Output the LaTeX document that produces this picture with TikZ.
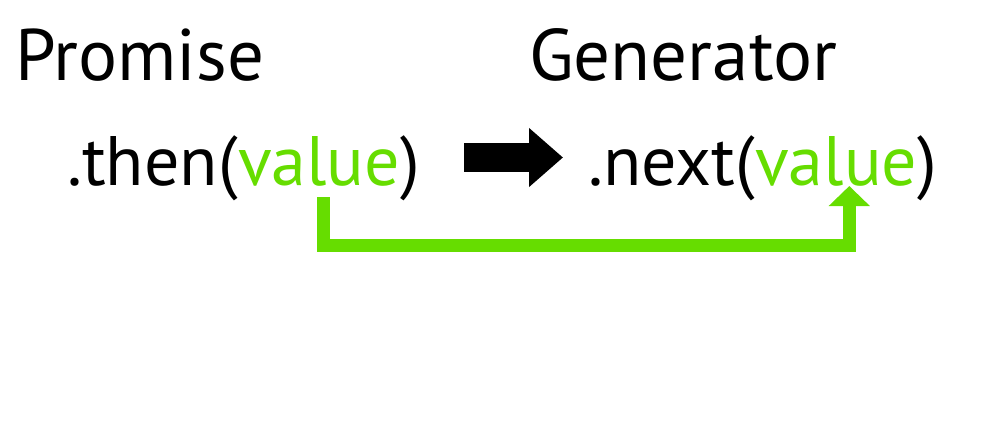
\documentclass[tikz,border=0pt]{standalone}
\usepackage{fontspec}
\setmainfont{PT Sans}
\usetikzlibrary{positioning,arrows.meta,calc}
\definecolor{valgreen}{RGB}{102,221,0}

\begin{document}
\begin{tikzpicture}[x=1pt, y=-1pt, font=\fontsize{70}{80}\selectfont,
  txt/.style={inner sep=0pt, anchor=base west},
  head/.style={txt, font=\fontsize{73}{80}\selectfont},
  flow/.style={-{Triangle[length=34pt, width=57pt]}, line width=29pt},
  pass/.style={draw=valgreen, -{Triangle[length=20pt, width=40pt]}, line width=13pt}]
\useasboundingbox (0,0) rectangle (983,432);
\node[head] (promise) at (15,80) {Promise};
\node[head] (generator) at (529,80) {Generator};
\node[txt] (thenpre) at (67,185) {.then(};
\node[txt, text=valgreen] (thenval) at (thenpre.base east) {value};
\node[txt] (thenpost) at (thenval.base east) {)};
\node[txt] (nextpre) at (588,185) {.next(};
\node[txt, text=valgreen] (nextval) at (nextpre.base east) {value};
\node[txt] (nextpost) at (nextval.base east) {)};
\draw[flow] ($(thenpost.base east)+(44,-27.5)$) -- ($(nextpre.base west)+(-25,-27.5)$);
\draw[pass] ($(thenval.base)+(4,12)$) -- ++(0,48.5) -| ($(nextval.base)+(13,1)$);
\end{tikzpicture}
\end{document}
